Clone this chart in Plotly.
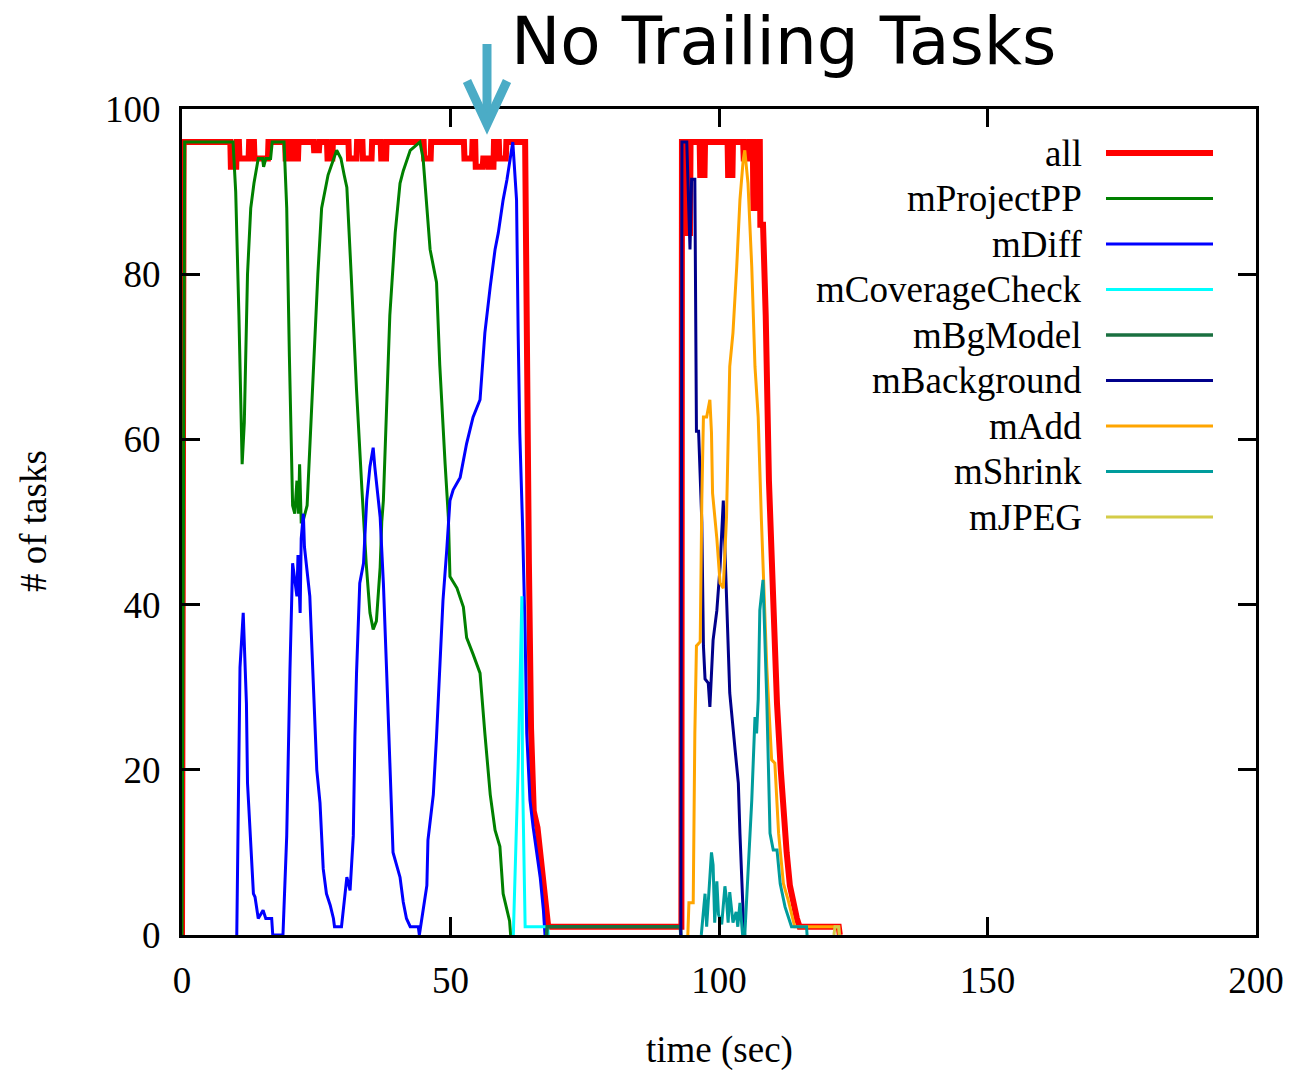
import plotly.graph_objects as go

# ---- task counts over time (seconds) ----
all_t = [0, 0.3, 9, 9.1, 10.1, 10.2, 10.6, 10.7, 12.4, 12.5, 13.4, 13.5, 16.0, 16.1, 19.2, 19.3, 20.0, 20.1,
         20.7, 20.8, 21.6, 21.7, 24.5, 24.6, 25.5, 25.6, 27, 27.1, 28.0, 28.1, 31, 31.1, 32.5, 32.6, 33.6, 33.7,
         35.3, 35.4, 37, 37.1, 38, 38.1, 45, 45.1, 46.3, 46.4, 52.5, 52.6, 54, 54.1, 54.6, 54.7, 56, 56.1, 57,
         57.1, 58, 58.1, 59, 59.1, 60.3, 60.4, 63.9, 64.2, 64.6, 65.0, 65.5, 66.2, 66.8, 67.4, 68.0, 68.2, 93.0,
         93.1, 93.6, 93.7, 94.6, 94.7, 96.4, 96.5, 97.3, 97.4, 101.6, 101.7, 102.5, 102.6, 104.5, 104.6, 105.5,
         105.6, 106.3, 106.4, 106.9, 107.0, 107.6, 107.7, 108.2, 108.7, 109.3, 110.0, 110.8, 111.5, 112.0, 112.6,
         113.2, 113.8, 114.5, 115, 122.3, 122.5]
all_v = [0, 96, 96, 93, 93, 96, 96, 94, 94, 96, 96, 94, 94, 96, 96, 94, 94, 96,
         96, 94, 94, 96, 96, 95, 95, 96, 96, 94, 94, 96, 96, 94, 94, 96, 96, 94,
         94, 96, 96, 94, 94, 96, 96, 94, 94, 96, 96, 94, 94, 96, 96, 93, 93, 94, 94,
         93, 93, 96, 96, 94, 94, 96, 96, 70, 45, 25, 15, 13, 9, 6, 2, 1, 1,
         96, 96, 85, 85, 96, 96, 92, 92, 96, 96, 92, 92, 96, 96, 94, 94,
         96, 96, 88, 88, 96, 96, 86, 86, 75, 55, 40, 28, 20, 14, 10,
         6, 4, 2, 1, 1, 0]

pp_t = [0, 0.5, 9.5, 10.0, 10.6, 11.2, 11.6, 12.2, 12.8, 13.4, 14.2, 15.0, 15.2, 15.6, 16.5, 16.8, 19.0, 19.5,
        20.0, 20.6, 21.0, 21.4, 21.7, 21.9, 22.2, 22.5, 23.3, 24.0, 24.7, 25.3, 26.0, 27.2, 28.8, 29.6, 30.2,
        30.7, 31.5, 32.5, 33.5, 34.3, 35.0, 35.6, 36.2, 36.9, 37.2, 37.5, 38.7, 39.7, 40.6, 41.2, 42.5, 44.3,
        44.9, 46.2, 47.4, 48.0, 49.0, 49.6, 49.9, 51.2, 52.4, 53.0, 54.2, 55.5, 56.4, 57.4, 58.3, 59.2, 59.8,
        61.0, 61.2]
pp_v = [0, 96, 96, 90, 75, 57, 62, 80, 88, 91, 94, 94, 93, 94, 94, 96, 96, 88,
        70, 52, 51, 55, 51, 57, 50, 50, 52, 62, 72, 80, 88, 92, 95, 94, 92,
        90.5, 80, 66, 54, 45, 39, 37, 38, 44.5, 50, 52.6, 75, 85, 91, 92.5, 95, 96,
        94, 83, 79, 69, 57, 50.6, 43.4, 42, 39.7, 36, 34, 31.7, 24.4, 17, 12.7, 10.7, 5,
        1.7, 0]

diff_t = [10.2, 10.8, 11.4, 12.0, 12.2, 13.3, 13.6, 14.2, 15.1, 15.6, 16.7, 16.9, 18.8, 19.5, 20.1, 20.4, 20.6,
          21.4, 21.6, 22.0, 22.2, 22.6, 22.8, 23.8, 24.4, 25.1, 25.7, 26.3, 26.9, 27.6, 28.2, 28.4, 29.7, 30.0,
          30.7, 31.3, 31.9, 32.2, 32.5, 33.1, 33.8, 34.4, 35.0, 35.6, 35.9, 36.9, 37.5, 38.1, 38.7, 39.3, 40.6,
          41.2, 41.8, 42.5, 44.0, 44.2, 44.9, 45.6, 45.8, 46.8, 47.4, 48.0, 48.6, 49.3, 49.9, 50.5, 51.8, 53.0,
          54.2, 55.5, 56.4, 57.4, 58.3, 58.9, 59.8, 60.5, 61.1, 61.6, 61.8, 62.3, 62.6, 62.9, 63.4, 63.9, 64.2,
          64.8, 65.4, 66.0, 66.7, 67.3, 67.6]
diff_v = [0, 32.4, 39, 28, 18.4, 5, 4.6, 2, 3, 2, 2, 0, 0, 12, 32, 42, 45,
          41, 46, 39, 48, 51, 47, 41, 30.5, 20, 16, 8, 5, 3.6, 2, 1, 1, 3,
          7, 5.4, 12, 24, 31.7, 42.6, 45, 52.7, 56.7, 59, 56.7, 50.6, 42.6, 32, 21, 10, 7,
          4, 2, 1, 1, 0, 3, 6, 11.5, 17, 24, 32, 40.5, 46.6, 52.6, 53.9, 55.4, 59.5,
          62.7, 64.8, 72.9, 78.5, 83, 85, 89, 91.4, 94.2, 96, 94, 89, 72.9, 60.8, 50, 36.5, 24.4,
          16.3, 13, 10.3, 7, 3, 0]

cov_t = [61.7, 62.6, 63.3, 63.4, 63.9, 68.1, 68.2]
cov_v = [0, 20.4, 41, 20, 1, 1, 0]

bg_t = [67.9, 68.0, 92.8, 92.9]
bg_v = [0, 1, 1, 0]

back_t = [92.9, 93.1, 94.0, 94.6, 94.9, 95.5, 95.8, 96.2, 96.8, 97.1, 97.4, 98.0, 98.3, 98.9, 99.6, 100.2, 100.8,
          101.4, 102.0, 103.0, 103.6, 103.9, 104.4, 104.6, 104.8]
back_v = [0, 96, 96, 83, 91.5, 91.5, 61, 61, 50, 35, 31, 30.5, 27.6, 35.7, 39.3, 44.6, 52.6,
          41.4, 29.3, 22.4, 18.4, 12.3, 4.2, 1, 0]

add_t = [94.2, 94.4, 95.2, 95.5, 95.8, 96.5, 96.8, 97.1, 97.7, 98.3, 98.6, 98.8, 99.6, 100.2, 100.8, 101.4, 102.0,
         102.6, 103.3, 103.9, 104.5, 104.8, 105.4, 106.1, 106.7, 107.3, 107.9, 108.2, 108.9, 109.8, 110.4, 111.1,
         112.0, 112.9, 113.8, 114.1, 122.3, 122.4]
add_v = [0, 3.9, 3.9, 24.4, 35, 35.5, 52.6, 62.7, 62.7, 64.8, 60.8, 53.5, 48, 42.6, 42, 50.6, 68.8,
         72.9, 80.9, 89, 93.8, 95, 91, 80.9, 68.8, 62.7, 50.2, 44.6, 32.4, 21.2, 20.8, 12.3,
         6.2, 4.2, 2, 1, 1, 0]

shrink_t = [96.7, 97.4, 97.7, 98.0, 98.6, 98.9, 99.2, 99.6, 99.9, 100.5, 101.1, 101.4, 101.7, 102.0, 102.6, 103.2,
            103.5, 103.9, 104.4, 104.8, 105.4, 106.1, 106.7, 107.0, 107.3, 107.6, 108.2, 108.5, 108.9, 109.5,
            110.1, 110.8, 111.4, 112.3, 113.5, 116.3, 116.4]
shrink_v = [0, 5, 1, 4, 10, 8.5, 1.5, 6.5, 2.5, 1.3, 5.9, 4.3, 1.5, 5.2, 1.5, 2.8,
            1, 3.9, 0, 0, 7, 16.3, 26.4, 24.4, 28.5, 39.3, 43, 36.6, 28.5, 12.3,
            10.3, 10.3, 6.2, 3.4, 1, 1, 0]

jpeg_t = [121.4, 121.6, 122.3, 122.4]
jpeg_v = [0, 1, 1, 0]

series = [
    ("all", all_t, all_v, "#ff0000", 6),
    ("mProjectPP", pp_t, pp_v, "#008000", 3),
    ("mDiff", diff_t, diff_v, "#0000ff", 3),
    ("mCoverageCheck", cov_t, cov_v, "#00ffff", 3),
    ("mBgModel", bg_t, bg_v, "#1a7040", 3.5),
    ("mBackground", back_t, back_v, "#00008b", 3),
    ("mAdd", add_t, add_v, "#ffa500", 3),
    ("mShrink", shrink_t, shrink_v, "#009c9c", 3),
    ("mJPEG", jpeg_t, jpeg_v, "#d4cc48", 3),
]

x_ticks = [0, 50, 100, 150, 200]
y_ticks = [0, 20, 40, 60, 80, 100]

W, H = 1289, 1070
L, R, T, B = 182, 33, 109, 135
PW, PH = W - L - R, H - T - B


def fx(p):
    return (p - L) / PW


def fy(p):
    return (H - B - p) / PH


SERIF = "Liberation Serif, Times New Roman, serif"

fig = go.Figure()
for name, t, v, color, width in series:
    fig.add_trace(go.Scatter(x=t, y=v, mode="lines", name=name, showlegend=False,
                             line=dict(color=color, width=width)))

# legend drawn as right-aligned labels with line samples to their right
annotations = []
shapes = []
legend_y0, legend_dy = 153, 45.5
for i, (name, t, v, color, width) in enumerate(series):
    yy = legend_y0 + i * legend_dy
    annotations.append(dict(text=name, x=fx(1084), y=fy(yy), xref="paper", yref="paper",
                            xanchor="right", yanchor="middle", showarrow=False,
                            font=dict(family=SERIF, size=37, color="black")))
    shapes.append(dict(type="line", xref="paper", yref="paper", x0=fx(1106), x1=fx(1213),
                       y0=fy(yy), y1=fy(yy), line=dict(color=color, width=width)))

# heading and marker arrow
annotations.append(dict(text="No Trailing Tasks", x=fx(783), y=fy(41), xref="paper", yref="paper",
                        xanchor="center", yanchor="middle", showarrow=False,
                        font=dict(family="DejaVu Sans, sans-serif", size=66, color="black")))
arrow_color = "#4bacc6"
shapes.append(dict(type="line", xref="paper", yref="paper", x0=fx(487), x1=fx(487),
                   y0=fy(44), y1=fy(120), line=dict(color=arrow_color, width=9)))
shapes.append(dict(type="path", xref="paper", yref="paper",
                   path=f"M {fx(467)},{fy(81)} L {fx(487)},{fy(124)} L {fx(507)},{fy(81)}",
                   line=dict(color=arrow_color, width=9)))

# axis titles
annotations.append(dict(text="time (sec)", x=fx(719), y=fy(1050), xref="paper", yref="paper",
                        xanchor="center", yanchor="middle", showarrow=False,
                        font=dict(family=SERIF, size=37, color="black")))
annotations.append(dict(text="# of tasks", x=fx(33), y=fy(521), xref="paper", yref="paper",
                        xanchor="center", yanchor="middle", showarrow=False, textangle=-90,
                        font=dict(family=SERIF, size=37, color="black")))

axis_common = dict(showgrid=False, zeroline=False, showline=True, linecolor="black", linewidth=3,
                   mirror="ticks", ticks="inside", ticklen=18, tickwidth=3, tickcolor="black",
                   automargin=False,
                   tickfont=dict(family=SERIF, size=37, color="black"))

fig.update_layout(
    template="none",
    width=W, height=H,
    margin=dict(l=L, r=R, t=T, b=B),
    paper_bgcolor="white", plot_bgcolor="white",
    xaxis=dict(range=[0, 200], tickvals=x_ticks, ticklabelstandoff=11, **axis_common),
    yaxis=dict(range=[0, 100], tickvals=y_ticks, ticklabelstandoff=11, **axis_common),
    annotations=annotations,
    shapes=shapes,
)

fig.write_html("out.html")
